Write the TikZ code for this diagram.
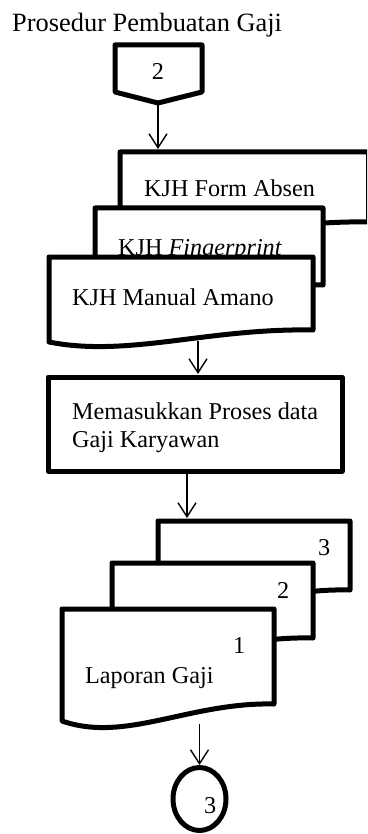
\documentclass[tikz,border=0pt]{standalone}
\usepackage{fontspec}
\setmainfont{Liberation Serif}
\usetikzlibrary{arrows.meta,shapes.geometric}
\newcommand\docshape[5]{% L T R BR BL
  (#1,#2) -- (#3,#2) -- (#3,#4)
  .. controls ({#1+0.6*(#3-#1)},{#4-2}) and ({#1+0.3*(#3-#1)},{#5+1.3*(#5-#4)}) .. (#1,#5) -- cycle}
\begin{document}
\begin{tikzpicture}[x=1pt,y=-1pt,
  thick border/.style={line width=5pt,line join=round,fill=white},
  arr/.style={line width=1.4pt,-{Straight Barb[length=14pt,width=18pt,line width=1.4pt]}},
  body/.style={inner sep=0pt,font=\fontsize{24.2}{28}\selectfont},
  titlefont/.style={inner sep=0pt,font=\fontsize{26.4}{31}\selectfont}]
\useasboundingbox (0,0) rectangle (367,834);
\clip (0,0) rectangle (367,834);

% title
\node[titlefont,anchor=base west] (title) at (12,32) {Prosedur Pembuatan Gaji};

% off-page connector 2
\draw[thick border] (115,45) -- (202,45) -- (202,92) -- (158,103) -- (115,92) -- cycle;
\node[body,anchor=base] (conn2) at (158,80) {2};
\coordinate (conn2tip) at (158,104);

% document stack 1
\draw[thick border] \docshape{120}{152}{368.5}{222}{234};
\node[body,anchor=base west] (docA) at (144,197) {KJH Form Absen};
\draw[thick border] \docshape{95}{208}{323}{285}{297};
\node[body,anchor=base west] (docB) at (118,255) {KJH \textit{Fingerprint}};
\draw[thick border] \docshape{49}{257}{313}{330}{342};
\node[body,anchor=base west] (docC) at (72,305) {KJH Manual Amano};
\coordinate (stackAtop) at (158,149);
\coordinate (stackAbot) at (198,341);

% process
\node[draw,line width=5pt,line join=round,minimum width=294pt,minimum height=94pt,inner sep=0pt] (proc) at (195,424) {};
\node[body,anchor=base west,align=left] (proctext) at (72,447) {Memasukkan Proses data\\Gaji Karyawan};
\coordinate (proctop) at (198,374);
\coordinate (procbot) at (187,473);

% document stack 2
\draw[thick border] \docshape{158}{521}{350}{590}{602};
\node[body,anchor=base west] (copy3) at (318,555) {3};
\draw[thick border] \docshape{112}{563}{313}{638}{650};
\node[body,anchor=base west] (copy2) at (277,598) {2};
\draw[thick border] \docshape{62}{609}{274}{704}{721};
\node[body,anchor=base west] (copy1) at (233,653) {1};
\node[body,anchor=base west] (lap) at (85,683) {Laporan Gaji};
\coordinate (stackBtop) at (187,518);
\coordinate (stackBbot) at (199.5,724);

% on-page connector 3
\node[ellipse,draw,line width=5pt,minimum width=53pt,minimum height=63pt,inner sep=0pt] (conn3) at (199.5,799) {};
\node[body,anchor=base west] (conn3text) at (204,813) {3};

% connectors
\draw[arr] (conn2tip) -- (stackAtop);
\draw[arr] (stackAbot) -- (proctop);
\draw[arr] (procbot) -- (stackBtop);
\draw[arr] (stackBbot) -- (conn3.north);
\end{tikzpicture}
\end{document}
